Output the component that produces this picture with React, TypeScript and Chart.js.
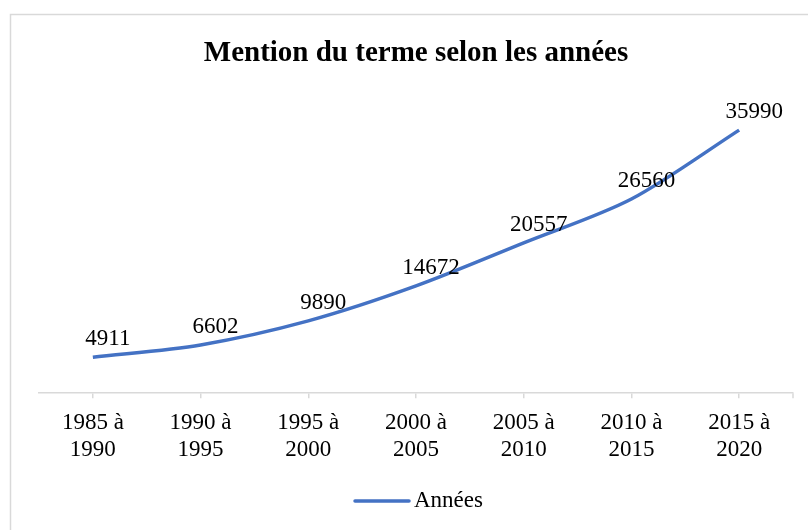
import React, { useEffect, useRef } from "react";
import { Chart, registerables } from "chart.js";

Chart.register(...registerables);

const titleText = "Mention du terme selon les années";
const seriesName = "Années";
const categories: string[][] = [
  ["1985 à", "1990"],
  ["1990 à", "1995"],
  ["1995 à", "2000"],
  ["2000 à", "2005"],
  ["2005 à", "2010"],
  ["2010 à", "2015"],
  ["2015 à", "2020"],
];
const values: number[] = [4911, 6602, 9890, 14672, 20557, 26560, 35990];

const FONT = "'Liberation Serif', 'Times New Roman', serif";
const LINE_COLOR = "#4472C4";
const AXIS_COLOR = "#d9d9d9";

const decorPlugin = {
  id: "decor",
  beforeDraw(chart: any) {
    const ctx = chart.ctx;
    ctx.save();
    ctx.fillStyle = "#ffffff";
    ctx.fillRect(0, 0, chart.width, chart.height);
    ctx.strokeStyle = AXIS_COLOR;
    ctx.lineWidth = 1.5;
    ctx.strokeRect(10.5, 14.5, chart.width + 40, chart.height + 40);
    ctx.restore();
  },
  afterDraw(chart: any) {
    const ctx = chart.ctx;
    const area = chart.chartArea;
    ctx.save();
    // end tick of the category axis
    ctx.strokeStyle = AXIS_COLOR;
    ctx.lineWidth = 1.5;
    ctx.beginPath();
    ctx.moveTo(area.right, area.bottom);
    ctx.lineTo(area.right, area.bottom + 5);
    ctx.stroke();
    // data labels
    const meta = chart.getDatasetMeta(0);
    const data = chart.data.datasets[0].data as number[];
    ctx.font = `23px ${FONT}`;
    ctx.fillStyle = "#000000";
    ctx.textAlign = "center";
    ctx.textBaseline = "middle";
    meta.data.forEach((el: any, i: number) => {
      ctx.fillText(String(data[i]), el.x + 15, el.y - 18);
    });
    // legend
    const ds = chart.data.datasets[0];
    ctx.font = `23px ${FONT}`;
    const tw = ctx.measureText(ds.label).width;
    const lineLen = 54;
    const gap = 5;
    const total = lineLen + gap + tw;
    const cx = (area.left + area.right) / 2 + 3;
    const x0 = cx - total / 2;
    const ly = 501;
    ctx.strokeStyle = ds.borderColor;
    ctx.lineWidth = 3.5;
    ctx.lineCap = "round";
    ctx.beginPath();
    ctx.moveTo(x0, ly);
    ctx.lineTo(x0 + lineLen, ly);
    ctx.stroke();
    ctx.textAlign = "left";
    ctx.fillText(ds.label, x0 + lineLen + gap, ly);
    ctx.restore();
  },
};

export default function App() {
  const ref = useRef<HTMLCanvasElement | null>(null);
  useEffect(() => {
    if (!ref.current) return;
    const chart = new Chart(ref.current, {
      type: "line",
      data: {
        labels: categories,
        datasets: [
          {
            label: seriesName,
            data: values,
            borderColor: LINE_COLOR,
            backgroundColor: LINE_COLOR,
            borderWidth: 3.5,
            pointRadius: 0,
            tension: 0.3,
            fill: false,
          },
        ],
      },
      options: {
        animation: false,
        responsive: false,
        layout: { padding: { left: 39, right: 15, top: 14, bottom: 56 } },
        plugins: {
          legend: { display: false },
          tooltip: { enabled: false },
          title: {
            display: true,
            text: titleText,
            color: "#000000",
            font: { family: FONT, size: 29, weight: "bold", lineHeight: 1.2 },
            padding: { top: 22, bottom: 30 },
          },
        },
        scales: {
          x: {
            offset: true,
            grid: {
              display: true,
              offset: false,
              drawOnChartArea: false,
              drawTicks: true,
              tickLength: 5,
              color: AXIS_COLOR,
              lineWidth: 1.5,
            },
            border: { display: true, color: AXIS_COLOR, width: 1.5 },
            ticks: {
              color: "#000000",
              font: { family: FONT, size: 23, lineHeight: 1.17 },
              padding: 11,
              maxRotation: 0,
              autoSkip: false,
            },
          },
          y: {
            display: false,
            min: 0,
            max: 40000,
          },
        },
      },
      plugins: [decorPlugin],
    });
    return () => chart.destroy();
  }, []);
  return (
    <div style={{ position: "fixed", left: 0, top: 0, width: 808, height: 530, background: "#fff" }}>
      <canvas ref={ref} width={808} height={530} style={{ width: 808, height: 530, display: "block" }} />
    </div>
  );
}
